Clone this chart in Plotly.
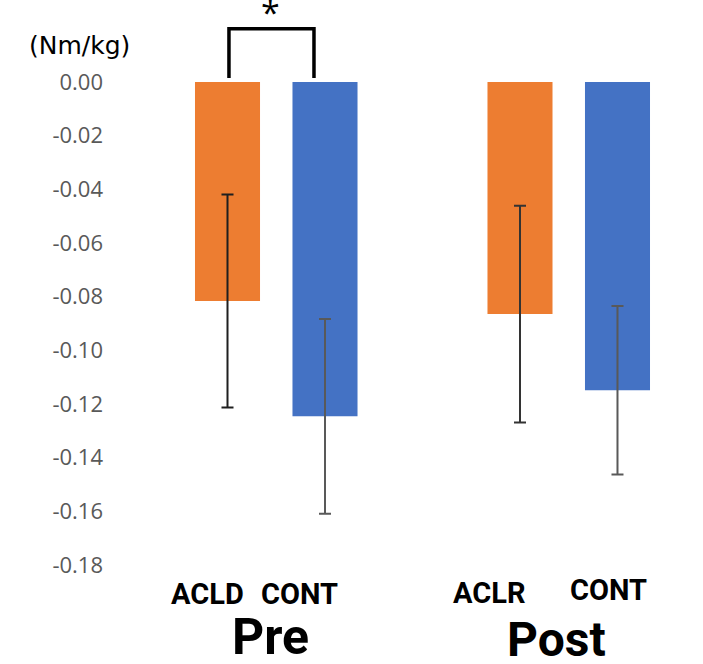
import plotly.graph_objects as go

# ---- data ----
groups = ["Pre", "Post"]
labels = ["ACLD", "CONT", "ACLR", "CONT"]
values = [-0.0816, -0.1246, -0.0865, -0.1149]
errors = [0.0397, 0.0363, 0.0404, 0.0314]
colors = ["#ED7D31", "#4472C4", "#ED7D31", "#4472C4"]
err_colors = ["#1f1f1f", "#595959", "#333333", "#595959"]
tick_vals = [0.00, -0.02, -0.04, -0.06, -0.08, -0.10, -0.12, -0.14, -0.16, -0.18]
tick_text = ["0.00", "-0.02", "-0.04", "-0.06", "-0.08", "-0.10", "-0.12", "-0.14", "-0.16", "-0.18"]
unit_label = "(Nm/kg)"
sig_mark = "*"

# positions: two bars per group, one empty slot between groups
pos = [0, 1, 3, 4]

fig = go.Figure()
for i in range(4):
    fig.add_trace(go.Bar(
        x=[pos[i]], y=[values[i]], width=0.667,
        marker=dict(color=colors[i], line=dict(width=0)),
        error_y=dict(type="data", array=[errors[i]], visible=True,
                     color=err_colors[i], thickness=2, width=6),
        showlegend=False,
    ))

# bracket for significance
bx0, bx1 = 0.015, 0.887
ytop, ybot = 0.0198, 0.0015
fig.add_shape(type="path",
              path=f"M {bx0} {ybot} L {bx0} {ytop} L {bx1} {ytop} L {bx1} {ybot}",
              xref="x", yref="y", line=dict(color="black", width=3.5))

ann_font = dict(family="Roboto", size=29, color="black", weight="bold")
label_x = [-0.21, 0.74, 2.68, 3.91]
label_y = [-0.0513, -0.0513, -0.0495, -0.0445]
annotations = []
for lx, ly, t in zip(label_x, label_y, labels):
    annotations.append(dict(x=lx, y=ly, xref="x", yref="paper", text=t, showarrow=False,
                            font=ann_font, xanchor="center", yanchor="middle"))
group_x = [0.436, 3.37]
group_y = [-0.128, -0.131]
group_size = [50, 48]
for gx, gy, gs, t in zip(group_x, group_y, group_size, groups):
    annotations.append(dict(x=gx, y=gy, xref="x", yref="paper", text=t, showarrow=False,
                            font=dict(family="Roboto", size=gs, color="black", weight="bold"),
                            xanchor="center", yanchor="middle"))
annotations.append(dict(x=-0.0703, y=0.920, xref="paper", yref="paper", text=unit_label,
                        showarrow=False, font=dict(family="DejaVu Sans", size=25, color="black"),
                        xanchor="center", yanchor="middle"))
annotations.append(dict(x=0.446, y=0.979, xref="x", yref="paper", text=sig_mark,
                        showarrow=False, font=dict(family="Open Sans", size=34, color="black"),
                        xanchor="center", yanchor="middle"))

fig.update_layout(
    width=703, height=664,
    margin=dict(l=120, r=0, t=0, b=99),
    paper_bgcolor="white", plot_bgcolor="white",
    xaxis=dict(range=[-1.1026, 4.877], showticklabels=False, showgrid=False,
               zeroline=False, showline=False, ticks=""),
    yaxis=dict(range=[-0.18, 0.03056], tickvals=tick_vals, ticktext=tick_text,
               showgrid=False, zeroline=False, showline=False, ticks="",
               ticklabelstandoff=16,
               tickfont=dict(family="Open Sans", size=22, color="#595959")),
    annotations=annotations,
)

fig.write_html("out.html")
